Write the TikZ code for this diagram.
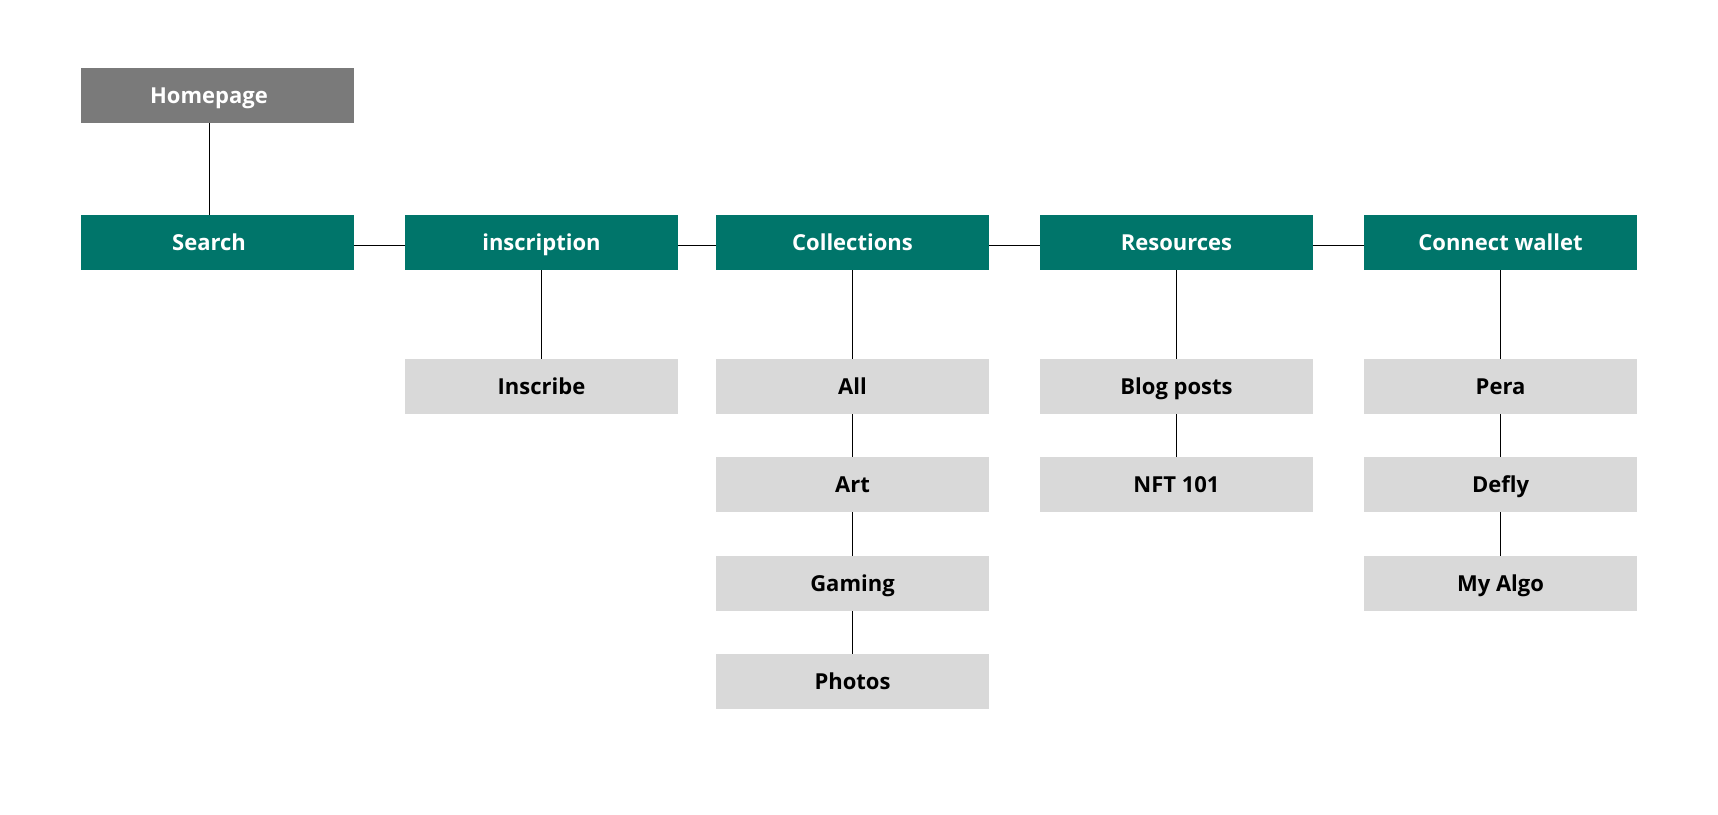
\documentclass[tikz,border=0pt]{standalone}
\usepackage{fontspec}
\setsansfont{Open Sans}
\usetikzlibrary{positioning}

\definecolor{teal}{HTML}{00756A}
\definecolor{darkgrey}{HTML}{7A7A7A}
\definecolor{lightgrey}{HTML}{D9D9D9}

\tikzset{
    box/.style={rectangle, minimum width=273pt, minimum height=54.7pt, inner sep=0pt,
        text height=15.7pt, text depth=0pt,
        font=\fontsize{22}{26}\sffamily\bfseries},
    home/.style={box, fill=darkgrey, text=white},
    main/.style={box, fill=teal, text=white},
    sub/.style={box, fill=lightgrey, text=black},
    leftcol/.style={execute at begin node=\kern-17pt},
    link/.style={line width=1pt, black}
}

\begin{document}
\begin{tikzpicture}[x=1pt,y=-1pt]

        \useasboundingbox (0,0) rectangle (1718,814);

        %%% TOP LEVEL

        % Homepage
        \node[home, leftcol] (homepage) at (217.5,95.5) {Homepage};

        % Main menu
        \node[main, leftcol] (search) at (217.5,242.5) {Search};
        \node[main] (inscription) at (541.5,242.5) {inscription};
        \node[main] (collections) at (852.5,242.5) {Collections};
        \node[main] (resources) at (1176.5,242.5) {Resources};
        \node[main] (wallet) at (1500.5,242.5) {Connect wallet};

        %%% SUB PAGES

        % inscription
        \node[sub] (inscribe) at (541.5,386.5) {Inscribe};

        % Collections
        \node[sub] (all) at (852.5,386.5) {All};
        \node[sub] (art) at (852.5,484.5) {Art};
        \node[sub] (gaming) at (852.5,583.5) {Gaming};
        \node[sub] (photos) at (852.5,681.5) {Photos};

        % Resources
        \node[sub] (blog) at (1176.5,386.5) {Blog posts};
        \node[sub] (nft) at (1176.5,484.5) {NFT 101};

        % Connect wallet
        \node[sub] (pera) at (1500.5,386.5) {Pera};
        \node[sub] (defly) at (1500.5,484.5) {Defly};
        \node[sub] (myalgo) at (1500.5,583.5) {My Algo};

        %%% LINKS

        \draw[link] ([xshift=-8.5pt]homepage.south) -- ([xshift=-8.5pt]search.north);

        \draw[link] ([yshift=-2.5pt]search.east) -- ([yshift=-2.5pt]inscription.west);
        \draw[link] ([yshift=-2.5pt]inscription.east) -- ([yshift=-2.5pt]collections.west);
        \draw[link] ([yshift=-2.5pt]collections.east) -- ([yshift=-2.5pt]resources.west);
        \draw[link] ([yshift=-2.5pt]resources.east) -- ([yshift=-2.5pt]wallet.west);

        \draw[link] (inscription) -- (inscribe);
        \draw[link] (collections) -- (all) (all) -- (art) (art) -- (gaming) (gaming) -- (photos);
        \draw[link] (resources) -- (blog) (blog) -- (nft);
        \draw[link] (wallet) -- (pera) (pera) -- (defly) (defly) -- (myalgo);

\end{tikzpicture}
\end{document}
